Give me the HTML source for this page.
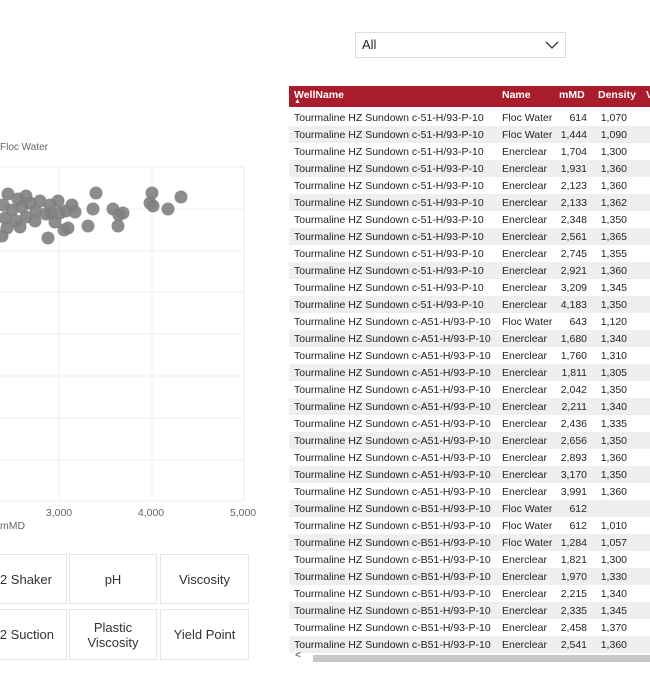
<!DOCTYPE html>
<html><head><style>
body{margin:0;width:650px;height:673px;background:#fff;font-family:"Liberation Sans",sans-serif;position:relative;overflow:hidden;color:#252423}
.a{position:absolute}
.btn{position:absolute;border:1px solid #e6e6e6;background:#fff;font-size:13px;color:#333;display:flex;align-items:center;justify-content:center;text-align:center;line-height:15px;white-space:nowrap;overflow:hidden}
table{border-collapse:collapse;font-size:10.5px}
td{height:17px;padding:0;white-space:nowrap}
tr:nth-child(even) td{background:#efefef}
</style></head><body>
<div class="a" style="left:355px;top:32px;width:209px;height:24px;border:1px solid #ddd;font-size:13px;line-height:24px;"><span style="margin-left:6px">All</span>
<svg class="a" style="right:6px;top:8px" width="14" height="8"><polyline points="1,1 7,7 13,1" fill="none" stroke="#333" stroke-width="1.3"/></svg></div>
<div class="a" style="left:0;top:142px;font-size:10px;color:#666">Floc Water</div>
<svg class="a" style="left:0;top:0" width="286" height="540">
<g stroke="#efefef" stroke-width="1">
<line x1="0" y1="167" x2="244" y2="167"/><line x1="0" y1="209" x2="244" y2="209"/><line x1="0" y1="251" x2="244" y2="251"/><line x1="0" y1="292" x2="244" y2="292"/><line x1="0" y1="334" x2="244" y2="334"/><line x1="0" y1="376" x2="244" y2="376"/><line x1="0" y1="418" x2="244" y2="418"/><line x1="0" y1="460" x2="244" y2="460"/><line x1="0" y1="501" x2="244" y2="501"/>
<line x1="59" y1="167" x2="59" y2="501"/><line x1="152" y1="167" x2="152" y2="501"/><line x1="244" y1="167" x2="244" y2="501"/>
</g>
<g fill="#808080" fill-opacity="0.9">
<circle cx="8" cy="194" r="6.5"/><circle cx="18" cy="199" r="6.5"/><circle cx="26" cy="196" r="6.5"/><circle cx="3" cy="205" r="6.5"/><circle cx="12" cy="210" r="6.5"/><circle cx="22" cy="207" r="6.5"/><circle cx="30" cy="203" r="6.5"/><circle cx="36" cy="211" r="6.5"/><circle cx="5" cy="218" r="6.5"/><circle cx="16" cy="221" r="6.5"/><circle cx="26" cy="217" r="6.5"/><circle cx="35" cy="221" r="6.5"/><circle cx="46" cy="214" r="6.5"/><circle cx="50" cy="205" r="6.5"/><circle cx="51" cy="213" r="6.5"/><circle cx="60" cy="213" r="6.5"/><circle cx="66" cy="211" r="6.5"/><circle cx="75" cy="212" r="6.5"/><circle cx="7" cy="228" r="6.5"/><circle cx="48" cy="238" r="6.5"/><circle cx="64" cy="230" r="6.5"/><circle cx="68" cy="228" r="6.5"/><circle cx="88" cy="226" r="6.5"/><circle cx="93" cy="209" r="6.5"/><circle cx="96" cy="193" r="6.5"/><circle cx="113" cy="209" r="6.5"/><circle cx="119" cy="215" r="6.5"/><circle cx="123" cy="213" r="6.5"/><circle cx="118" cy="226" r="6.5"/><circle cx="152" cy="193" r="6.5"/><circle cx="150" cy="203" r="6.5"/><circle cx="153" cy="206" r="6.5"/><circle cx="168" cy="209" r="6.5"/><circle cx="181" cy="197" r="6.5"/><circle cx="40" cy="201" r="6.5"/><circle cx="58" cy="201" r="6.5"/><circle cx="72" cy="205" r="6.5"/><circle cx="2" cy="236" r="6.5"/><circle cx="20" cy="227" r="6.5"/><circle cx="55" cy="222" r="6.5"/>
</g>
<g font-size="10.5" fill="#666" text-anchor="middle"><text x="59" y="516">3,000</text><text x="151" y="516">4,000</text><text x="243" y="516">5,000</text></g>
<text x="0" y="529" font-size="10.5" fill="#666">mMD</text>
</svg>
<div class="btn" style="left:-2px;top:554px;width:67px;height:48px;justify-content:flex-end;padding-right:0"><span style="margin-right:14px">02 Shaker</span></div>
<div class="btn" style="left:69px;top:554px;width:86px;height:48px">pH</div>
<div class="btn" style="left:160px;top:554px;width:87px;height:48px">Viscosity</div>
<div class="btn" style="left:-2px;top:609px;width:67px;height:49px;justify-content:flex-end"><span style="margin-right:12px">02 Suction</span></div>
<div class="btn" style="left:69px;top:609px;width:86px;height:49px">Plastic<br>Viscosity</div>
<div class="btn" style="left:160px;top:609px;width:87px;height:49px">Yield Point</div>
<div class="a" style="left:289px;top:86px;width:361px;height:21px;background:#a81c2b;color:#fff;font-size:10.5px;font-weight:bold">
<span class="a" style="left:5px;top:3px">WellName</span><span class="a" style="left:5px;top:12px;font-size:7px">▲</span>
<span class="a" style="left:213px;top:3px">Name</span><span class="a" style="left:270px;top:3px">mMD</span><span class="a" style="left:309px;top:3px">Density</span><span class="a" style="left:357px;top:3px">V</span></div>
<div class="a" style="left:289px;top:109px;width:361px;overflow:hidden">
<table style="width:380px">
<colgroup><col style="width:213px"><col style="width:55px"><col style="width:37px"><col style="width:38px"><col></colgroup>
<tbody id="tb"></tbody></table></div>
<div class="a" style="left:289px;top:654px;width:361px;height:8px;background:#fff"></div>
<div class="a" style="left:313px;top:655px;width:337px;height:7px;background:#c8c8c8"></div>
<div class="a" style="left:295px;top:650px;font-size:10px;color:#444">&lt;</div>
<script>
var r=[["c-51-H","Floc Water","614","1,070"],["c-51-H","Floc Water","1,444","1,090"],["c-51-H","Enerclear","1,704","1,300"],["c-51-H","Enerclear","1,931","1,360"],["c-51-H","Enerclear","2,123","1,360"],["c-51-H","Enerclear","2,133","1,362"],["c-51-H","Enerclear","2,348","1,350"],["c-51-H","Enerclear","2,561","1,365"],["c-51-H","Enerclear","2,745","1,355"],["c-51-H","Enerclear","2,921","1,360"],["c-51-H","Enerclear","3,209","1,345"],["c-51-H","Enerclear","4,183","1,350"],["c-A51-H","Floc Water","643","1,120"],["c-A51-H","Enerclear","1,680","1,340"],["c-A51-H","Enerclear","1,760","1,310"],["c-A51-H","Enerclear","1,811","1,305"],["c-A51-H","Enerclear","2,042","1,350"],["c-A51-H","Enerclear","2,211","1,340"],["c-A51-H","Enerclear","2,436","1,335"],["c-A51-H","Enerclear","2,656","1,350"],["c-A51-H","Enerclear","2,893","1,360"],["c-A51-H","Enerclear","3,170","1,350"],["c-A51-H","Enerclear","3,991","1,360"],["c-B51-H","Floc Water","612",""],["c-B51-H","Floc Water","612","1,010"],["c-B51-H","Floc Water","1,284","1,057"],["c-B51-H","Enerclear","1,821","1,300"],["c-B51-H","Enerclear","1,970","1,330"],["c-B51-H","Enerclear","2,215","1,340"],["c-B51-H","Enerclear","2,335","1,345"],["c-B51-H","Enerclear","2,458","1,370"],["c-B51-H","Enerclear","2,541","1,360"]];
var h="";r.forEach(function(x){h+='<tr><td style="padding-left:5px">Tourmaline HZ Sundown '+x[0]+'/93-P-10</td><td>'+x[1]+'</td><td style="text-align:right;padding-right:7px">'+x[2]+'</td><td style="text-align:right;padding-right:5px">'+x[3]+'</td><td></td></tr>';});
document.getElementById("tb").innerHTML=h;
</script>
</body></html>
